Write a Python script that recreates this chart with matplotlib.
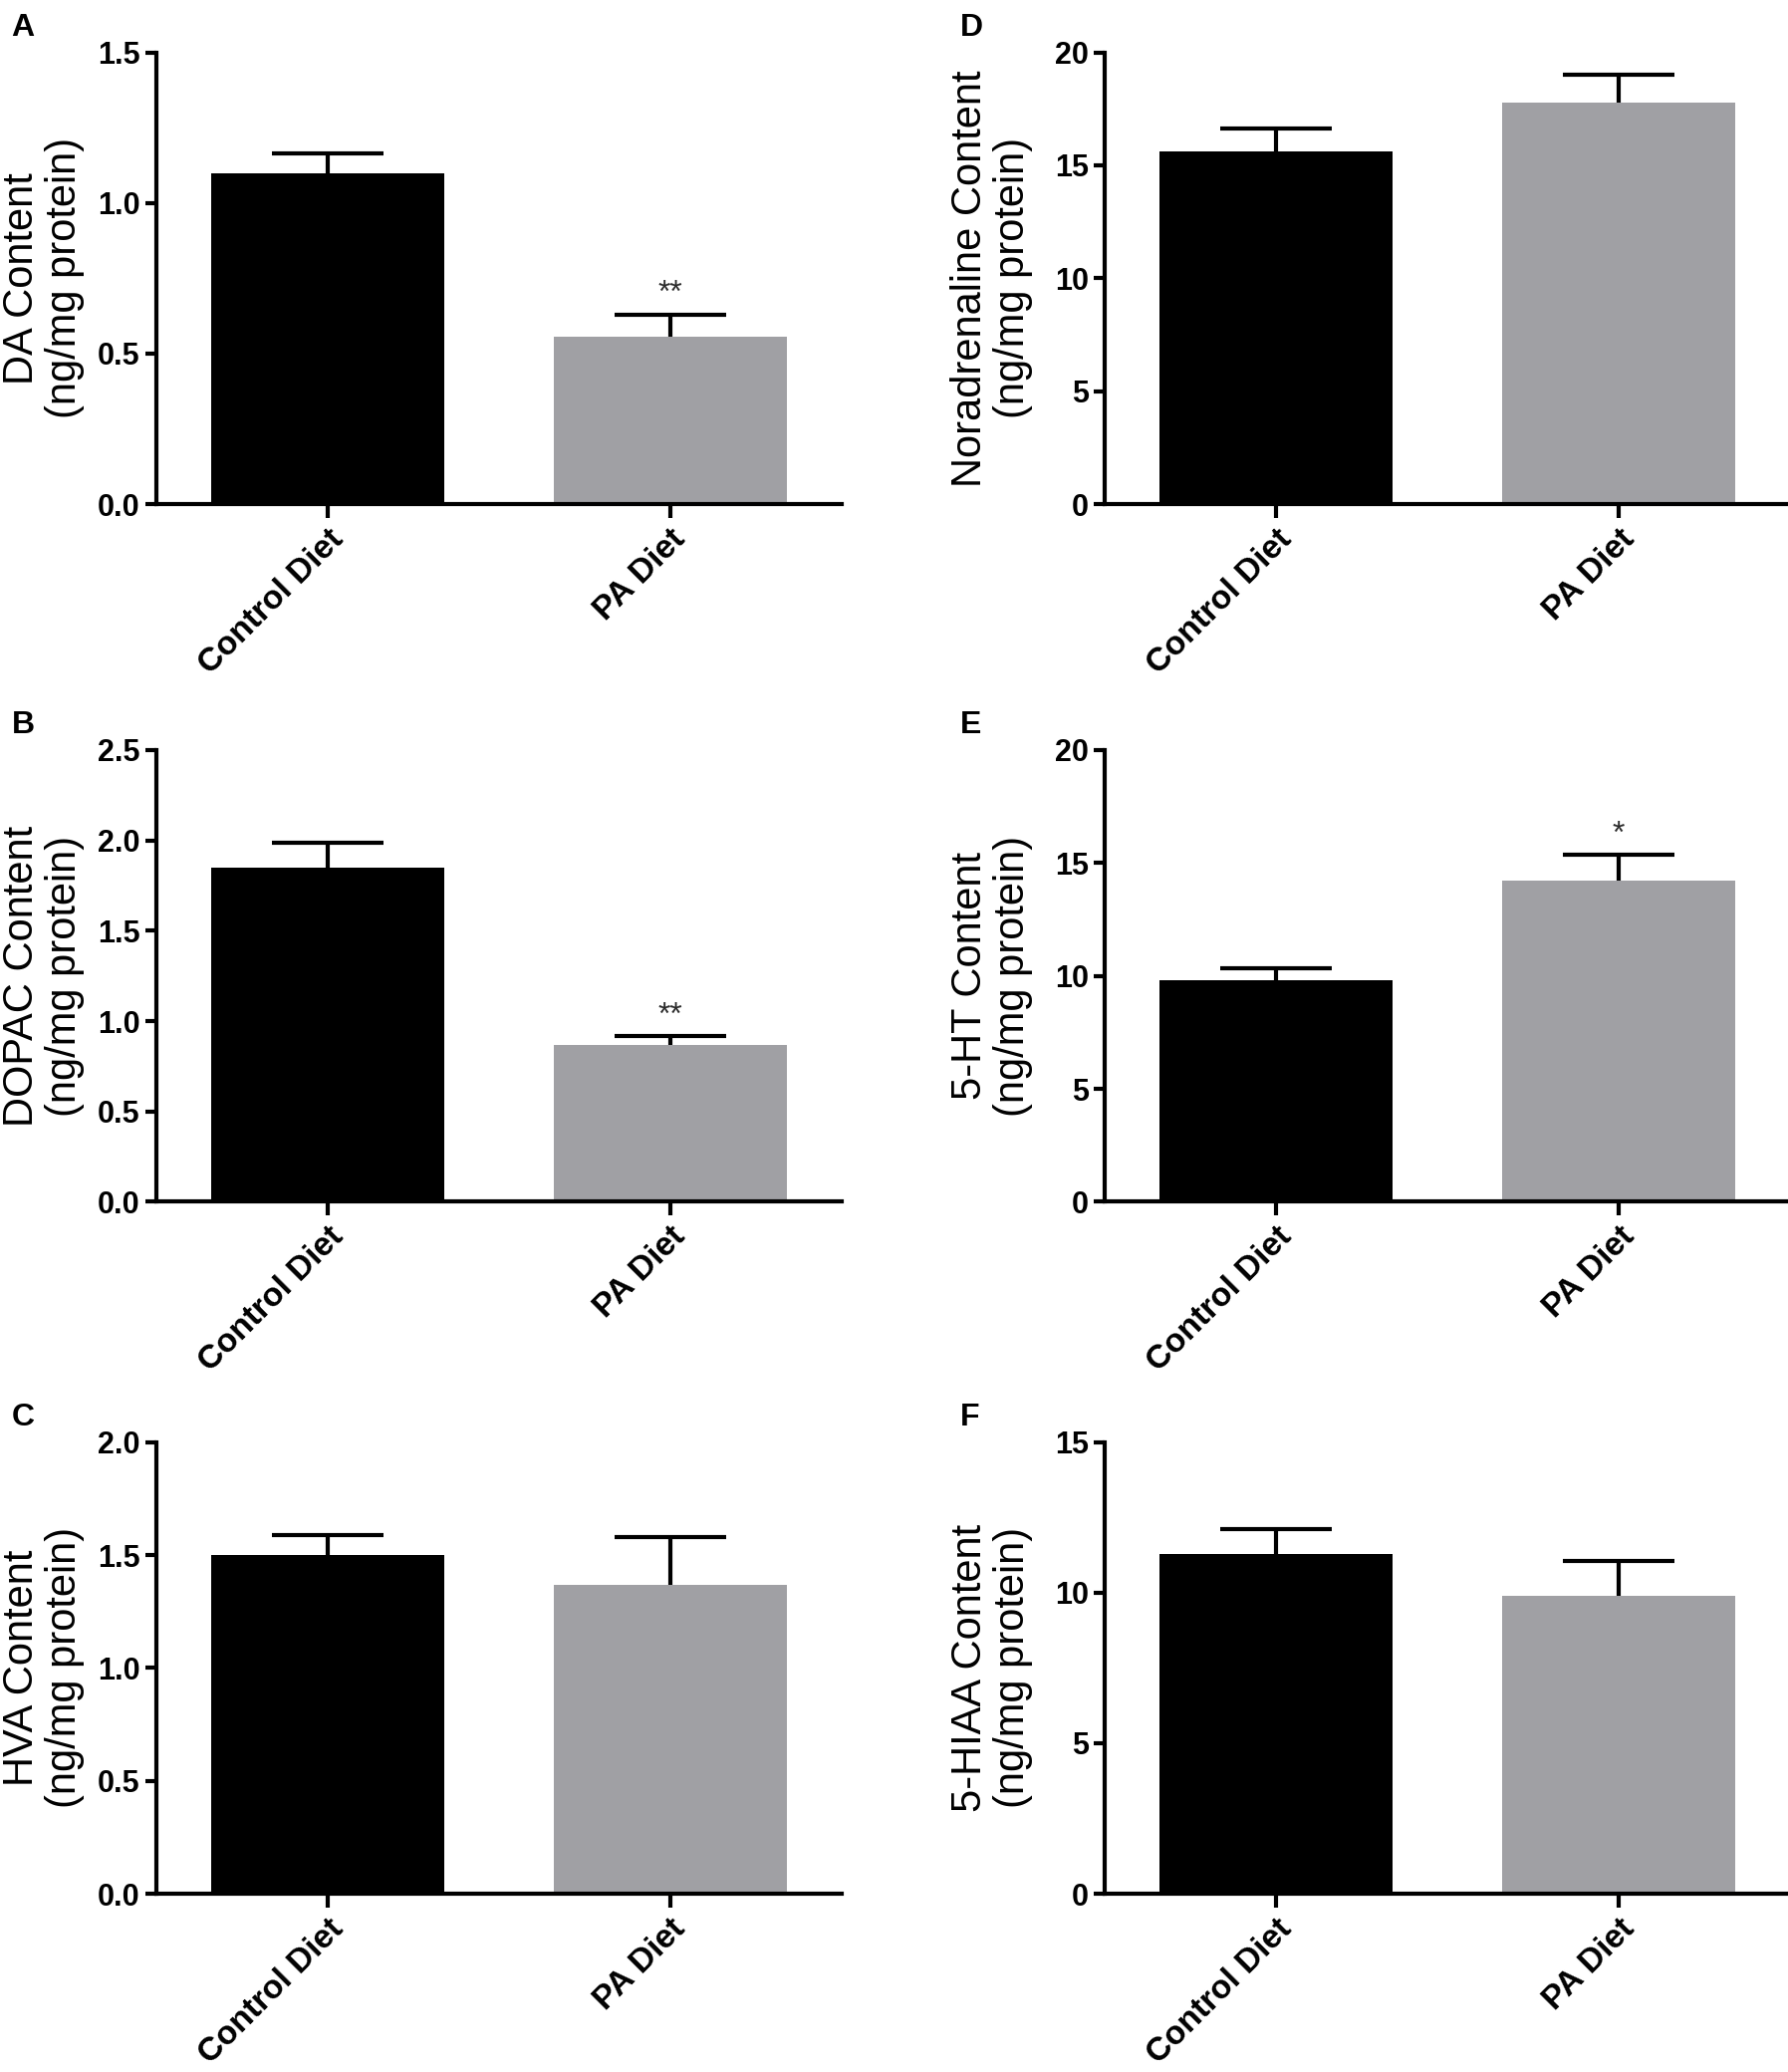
import numpy as np
import matplotlib
matplotlib.use("Agg")
import matplotlib.pyplot as plt

plt.rcParams['font.family'] = ['Liberation Sans', 'DejaVu Sans']

# groups on the x axis
groups = ["Control Diet", "PA Diet"]

# mean values and upper error (SEM) per panel
da_mean = [1.10, 0.555]
da_err = [0.066, 0.075]
dopac_mean = [1.85, 0.87]
dopac_err = [0.135, 0.045]
hva_mean = [1.50, 1.37]
hva_err = [0.09, 0.21]
na_mean = [15.6, 17.8]
na_err = [1.05, 1.2]
ht_mean = [9.8, 14.2]
ht_err = [0.55, 1.15]
hiaa_mean = [11.3, 9.9]
hiaa_err = [0.82, 1.15]

# significance marks
da_sig = ["", "**"]
dopac_sig = ["", "**"]
hva_sig = ["", ""]
na_sig = ["", ""]
ht_sig = ["", "*"]
hiaa_sig = ["", ""]

bar_colors = ["#000000", "#a0a0a4"]

fig = plt.figure(figsize=(17.95, 20.8), dpi=100)

left_x = 0.0875
right_x = 0.618
width = 0.383
rows = [0.7567, 0.420, 0.086]
height = 0.218

panels = [
    ("A", left_x, rows[0], da_mean, da_err, da_sig, "DA Content", 1.5, 0.5, "%.1f"),
    ("B", left_x, rows[1], dopac_mean, dopac_err, dopac_sig, "DOPAC Content", 2.5, 0.5, "%.1f"),
    ("C", left_x, rows[2], hva_mean, hva_err, hva_sig, "HVA Content", 2.0, 0.5, "%.1f"),
    ("D", right_x, rows[0], na_mean, na_err, na_sig, "Noradrenaline Content", 20, 5, "%d"),
    ("E", right_x, rows[1], ht_mean, ht_err, ht_sig, "5-HT Content", 20, 5, "%d"),
    ("F", right_x, rows[2], hiaa_mean, hiaa_err, hiaa_sig, "5-HIAA Content", 15, 5, "%d"),
]

for letter, px, py, means, errs, sigs, label, ymax, step, fmt in panels:
    ax = fig.add_axes([px, py, width, height])
    x = np.arange(len(groups))
    ax.bar(x, means, width=0.68, color=bar_colors, zorder=1)
    # only the upper half of the error bar is shown
    eb = ax.errorbar(x, means, yerr=[np.zeros(len(errs)), errs], fmt='none',
                     ecolor='black', elinewidth=3, capsize=40, capthick=3, zorder=2)
    eb[1][0].set_visible(False)
    for xi, m, e, s in zip(x, means, errs, sigs):
        if s:
            ax.text(xi, m + e + ymax * 0.012, s, ha='center', va='bottom',
                    fontsize=23, color='#2a2a2a')
    ax.set_xlim(-0.5, 1.5)
    ax.set_ylim(0, ymax)
    ticks = np.arange(0, ymax + step / 2, step)
    ax.set_yticks(ticks)
    ax.set_yticklabels([fmt % t for t in ticks], fontsize=22, fontweight='bold')
    ax.set_xticks(x)
    ax.set_xticklabels(groups, rotation=45, ha='right', va='top',
                       rotation_mode='anchor', fontsize=24, fontweight='bold')
    ax.spines['top'].set_visible(False)
    ax.spines['right'].set_visible(False)
    ax.spines['left'].set_linewidth(3)
    ax.spines['bottom'].set_linewidth(3)
    ax.tick_params(axis='y', length=8, width=3, pad=4)
    ax.tick_params(axis='x', length=10, width=3, pad=4)
    ax.set_ylabel(label + "\n(ng/mg protein)", fontsize=30, linespacing=1.1)
    ax.yaxis.set_label_coords(-0.105, 0.5)
    fig.text(px - 0.081, py + height + 0.012, letter, fontsize=23,
             fontweight='bold', ha='left', va='center')

fig.savefig("out.png", dpi=100)
